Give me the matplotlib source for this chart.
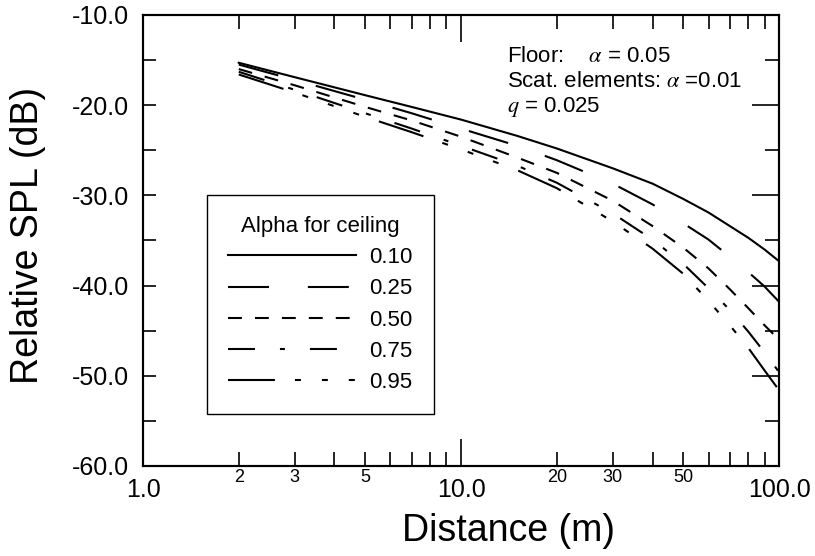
import matplotlib
matplotlib.use("Agg")
import matplotlib.pyplot as plt
from matplotlib.ticker import FixedLocator, FixedFormatter, MultipleLocator, FormatStrFormatter

plt.rcParams.update({
    "font.family": ["Liberation Sans", "DejaVu Sans"],
    "mathtext.fontset": "stix",
    "axes.unicode_minus": False,
    "lines.scale_dashes": False,
})

# distance (m) and relative SPL (dB)
dist = [2, 3, 5, 7, 10, 15, 20, 30, 40, 50, 60, 70, 80, 90, 100]
spl_010 = [-15.3, -16.9, -18.9, -20.2, -21.6, -23.4, -24.8, -27.0, -28.7, -30.4, -31.9, -33.4, -34.7, -36.0, -37.3]
spl_025 = [-15.5, -17.2, -19.4, -20.9, -22.6, -24.5, -26.1, -28.7, -31.0, -33.1, -34.9, -36.8, -38.5, -40.1, -41.8]
spl_050 = [-16.0, -17.8, -20.2, -21.7, -23.5, -25.8, -27.5, -30.6, -33.4, -35.8, -38.1, -40.4, -42.5, -44.4, -46.0]
spl_075 = [-16.3, -18.3, -20.9, -22.6, -24.5, -26.7, -28.6, -32.0, -34.9, -37.6, -40.3, -42.7, -45.1, -47.4, -49.6]
spl_095 = [-16.6, -18.6, -21.3, -23.0, -24.9, -27.2, -29.2, -32.9, -35.9, -38.7, -41.7, -44.4, -46.9, -49.4, -51.6]
labels = ["0.10", "0.25", "0.50", "0.75", "0.95"]

# dash patterns in points
styles = [
    "-",
    (0, (29.5, 28)),
    (0, (10, 9.4)),
    (0, (19.4, 18, 3.6, 18)),
    (0, (33.8, 14.4, 4.3, 15.1, 4.3, 15.1, 4.3, 15.1)),
]

fig = plt.figure(figsize=(8.15, 5.56), dpi=100)
ax = fig.add_axes([0.1755, 0.1619, 0.7804, 0.8112])

for ys, lab, ls in zip([spl_010, spl_025, spl_050, spl_075, spl_095], labels, styles):
    ax.plot(dist, ys, color="black", lw=1.5, linestyle=ls, label=lab)

ax.set_xscale("log")
ax.set_xlim(1, 100)
ax.set_ylim(-60, -10)

ax.xaxis.set_major_locator(FixedLocator([1, 10, 100]))
ax.xaxis.set_major_formatter(FixedFormatter(["1.0", "10.0", "100.0"]))
minors = [2, 3, 4, 5, 6, 7, 8, 9, 20, 30, 40, 50, 60, 70, 80, 90]
minor_lab = ["2", "3", "", "5", "", "", "", "", "20", "30", "", "50", "", "", "", ""]
ax.xaxis.set_minor_locator(FixedLocator(minors))
ax.xaxis.set_minor_formatter(FixedFormatter(minor_lab))

ax.yaxis.set_major_locator(MultipleLocator(10))
ax.yaxis.set_minor_locator(MultipleLocator(5))
ax.yaxis.set_major_formatter(FormatStrFormatter("%.1f"))

ax.tick_params(axis="x", which="both", direction="in", top=True, width=1.2)
ax.tick_params(axis="x", which="major", length=19.5, labelsize=18, pad=9)
ax.tick_params(axis="x", which="minor", length=10, labelsize=13, pad=2)
ax.tick_params(axis="y", which="both", direction="in", right=False, length=9.5,
               width=1.2, labelsize=18, pad=10)
for lbl in ax.get_xticklabels(minor=True) + ax.get_xticklabels() + ax.get_yticklabels():
    lbl.set_fontfamily(["Liberation Sans", "DejaVu Sans"])

# right-hand ticks are longer than the left ones
ax2 = ax.twinx()
ax2.set_ylim(-60, -10)
ax2.yaxis.set_major_locator(MultipleLocator(10))
ax2.yaxis.set_minor_locator(MultipleLocator(5))
ax2.tick_params(axis="y", which="both", direction="in", labelright=False, width=1.2)
ax2.tick_params(axis="y", which="major", length=19.5)
ax2.tick_params(axis="y", which="minor", length=10)

for a in (ax, ax2):
    for s in a.spines.values():
        s.set_linewidth(1.5)

ax.set_xlabel("Distance (m)", fontsize=27)
ax.xaxis.set_label_coords(0.574, -0.105)
ax.set_ylabel("Relative SPL (dB)", fontsize=27)
ax.yaxis.set_label_coords(-0.152, 0.512)

ax.text(0.572, 0.896, r"Floor:    $\alpha$ = 0.05", transform=ax.transAxes,
        fontsize=16, va="baseline")
ax.text(0.572, 0.840, r"Scat. elements: $\alpha$ =0.01", transform=ax.transAxes,
        fontsize=16, va="baseline")
ax.text(0.572, 0.785, r"$q$ = 0.025", transform=ax.transAxes,
        fontsize=16, va="baseline")

leg = ax.legend(title="Alpha for ceiling", loc="upper left", bbox_to_anchor=(0.1006, 0.601),
                borderaxespad=0, fancybox=False, edgecolor="black", framealpha=1,
                fontsize=16, title_fontsize=16, handlelength=5.76, handletextpad=0.58,
                labelspacing=0.46, borderpad=0.95)
leg.get_frame().set_linewidth(1.0)

fig.savefig("out.png", dpi=100)
